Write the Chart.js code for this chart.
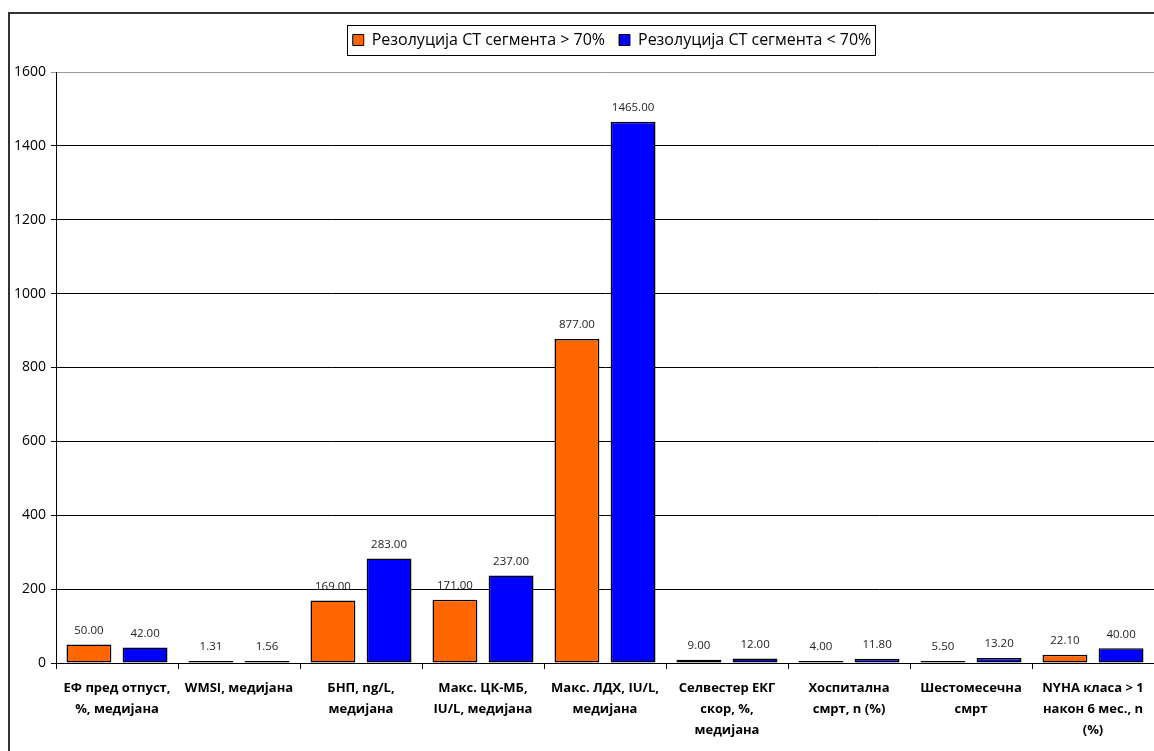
<!DOCTYPE html>
<html>
<head>
<meta charset="utf-8">
<script src="https://cdn.jsdelivr.net/npm/chart.js@4"></script>
<style>
  html, body { margin: 0; padding: 0; background: #fff; overflow: hidden; }
  #frame { position: absolute; left: 8px; top: 12px; width: 1200px; height: 800px; border: 2px solid #333; }
  #chart { position: absolute; left: 0; top: 0; }
</style>
</head>
<body>
<div id="frame"></div>
<canvas id="chart" width="1154" height="751"></canvas>
<script>
const categories = [
  ["ЕФ пред отпуст,", "%, медијана"],
  ["WMSI, медијана"],
  ["БНП, ng/L,", "медијана"],
  ["Макс. ЦК-МБ,", "IU/L, медијана"],
  ["Макс. ЛДХ, IU/L,", "медијана"],
  ["Селвестер ЕКГ", "скор, %,", "медијана"],
  ["Хоспитална", "смрт, n (%)"],
  ["Шестомесечна", "смрт"],
  ["NYHA класа > 1", "након 6 мес., n", "(%)"]
];
const above70 = [50, 1.31, 169, 171, 877, 9, 4, 5.5, 22.1];
const below70 = [42, 1.56, 283, 237, 1465, 12, 11.8, 13.2, 40];
const seriesNames = ["Резолуција СТ сегмента > 70%", "Резолуција СТ сегмента < 70%"];
const yTicks = [0, 200, 400, 600, 800, 1000, 1200, 1400, 1600];

const FONT = "'Open Sans', 'Noto Sans', sans-serif";

// value printed above every bar
const barValues = {
  id: "barValues",
  afterDatasetsDraw(chart) {
    const ctx = chart.ctx;
    ctx.save();
    ctx.font = "11.5px " + FONT;
    ctx.fillStyle = "#222";
    ctx.textAlign = "center";
    ctx.textBaseline = "middle";
    chart.data.datasets.forEach((ds, i) => {
      chart.getDatasetMeta(i).data.forEach((bar, j) => {
        ctx.fillText(ds.data[j].toFixed(2), bar.x, bar.y - 14);
      });
    });
    ctx.restore();
  }
};

// legend sits a little right of centre, with a thin frame round it
const legendBox = {
  id: "legendBox",
  afterLayout(chart) {
    chart.legend.left += 7;
    chart.legend.right += 7;
  },
  afterDraw(chart) {
    const boxes = chart.legend.legendHitBoxes;
    if (!boxes || !boxes.length) return;
    const first = boxes[0], last = boxes[boxes.length - 1];
    const mid = first.top + first.height / 2;
    const ctx = chart.ctx;
    ctx.save();
    ctx.strokeStyle = "#000";
    ctx.lineWidth = 1;
    const l = Math.round(first.left - 6) + 0.5;
    const r = Math.round(last.left + last.width + 4) + 0.5;
    const t = Math.round(mid - 15) + 0.5;
    const b = Math.round(mid + 15) + 0.5;
    ctx.strokeRect(l, t, r - l, b - t);
    ctx.restore();
  }
};

new Chart(document.getElementById("chart"), {
  type: "bar",
  data: {
    labels: categories,
    datasets: [
      {
        label: seriesNames[0],
        data: above70,
        backgroundColor: "#FF6600",
        borderColor: "#000",
        borderWidth: 1.5,
        borderSkipped: false,
        minBarLength: 2
      },
      {
        label: seriesNames[1],
        data: below70,
        backgroundColor: "#0000FF",
        borderColor: "#000",
        borderWidth: 1.5,
        borderSkipped: false,
        minBarLength: 2
      }
    ]
  },
  options: {
    responsive: false,
    animation: false,
    categoryPercentage: 0.92,
    barPercentage: 0.8,
    layout: { padding: { top: 18, right: 0, left: 0, bottom: 0 } },
    plugins: {
      tooltip: { enabled: false },
      // empty subtitle under the legend works as a spacer
      subtitle: {
        display: true,
        text: "",
        weight: 500,
        font: { size: 2, lineHeight: 1 },
        padding: { top: 0, bottom: 12 }
      },
      legend: {
        position: "top",
        fullSize: false,
        labels: {
          font: { family: FONT, size: 16 },
          color: "#000",
          boxWidth: 11,
          boxHeight: 11,
          padding: 14,
          generateLabels(chart) {
            return chart.data.datasets.map((ds, i) => ({
              text: ds.label,
              fillStyle: ds.backgroundColor,
              strokeStyle: "#000",
              lineWidth: 1,
              datasetIndex: i
            }));
          }
        }
      }
    },
    scales: {
      x: {
        afterFit(scale) { scale.height = 88; },
        grid: { offset: true, drawOnChartArea: false, color: "#000", tickLength: 6 },
        border: { color: "#000" },
        ticks: {
          font: { family: FONT, size: 13, weight: "bold", lineHeight: 1.62 },
          color: "#000",
          maxRotation: 0,
          autoSkip: false,
          padding: 9
        }
      },
      y: {
        min: 0,
        max: 1600,
        afterFit(scale) { scale.width = 56; },
        afterBuildTicks(scale) { scale.ticks = yTicks.map(v => ({ value: v })); },
        grid: {
          color: ctx => (ctx.tick && ctx.tick.value === 1600 ? "#999" : "#000"),
          tickLength: 5
        },
        border: { color: "#000" },
        ticks: {
          font: { family: FONT, size: 14 },
          color: "#000",
          padding: 5,
          callback: v => String(v)
        }
      }
    }
  },
  plugins: [barValues, legendBox]
});
</script>
</body>
</html>
